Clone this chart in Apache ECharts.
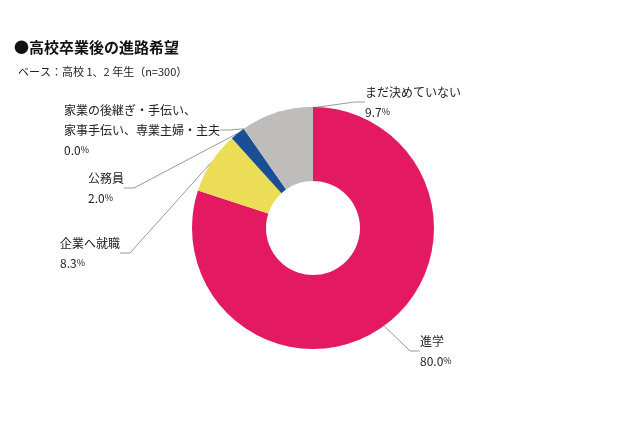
<!DOCTYPE html>
<html><head><meta charset="utf-8">
<script src="https://cdn.jsdelivr.net/npm/echarts@6/dist/echarts.min.js"></script>
<style>html,body{margin:0;background:#fff}#c{width:640px;height:426px}</style>
</head><body><div id="c"></div>
<script>
const names = ["進学", "企業へ就職", "公務員", "家業の後継ぎ・手伝い、\n家事手伝い、専業主婦・主夫", "まだ決めていない"];
const values = [80.0, 8.3, 2.0, 0.0, 9.7];
const colors = ["#e31a62", "#ebdd55", "#1a4f94", "#1a4f94", "#bebdbc"];
// label anchor positions
const labelPos = [[420, 331, "left"], [60, 233, "left"], [88, 168, "left"], [64, 100, "left"], [365, 82, "left"]];

const chart = echarts.init(document.getElementById("c"));
const option = {
  textStyle: { fontFamily: "Noto Sans CJK JP" },
  graphic: [
    { type: "text", left: 14, top: 40, style: { text: "●高校卒業後の進路希望", font: "bold 15px 'Noto Sans CJK JP'", fill: "#111" } },
    { type: "text", left: 18, top: 66, style: { text: "ベース：高校 1、2 年生（n=300）", font: "11px 'Noto Sans CJK JP'", fill: "#222" } }
  ],
  series: [{
    type: "pie",
    center: [313, 228],
    radius: [47, 121],
    startAngle: 90,
    clockwise: true,
    minAngle: 0,
    avoidLabelOverlap: false,
    data: names.map((n, i) => ({ name: n, value: values[i], itemStyle: { color: colors[i] } })),
    label: {
      color: "#222", fontSize: 12, lineHeight: 20,
      formatter: p => p.name + "\n" + p.value.toFixed(1) + "{s|%}",
      rich: { s: { fontSize: 9, color: "#222" } }
    },
    labelLine: { lineStyle: { color: "#999", width: 1 }, length: 10, length2: 10 },
    labelLayout: p => ({ x: labelPos[p.dataIndex][0], y: labelPos[p.dataIndex][1], align: labelPos[p.dataIndex][2], verticalAlign: "top" })
  }]
};
chart.setOption(option);
</script></body></html>
